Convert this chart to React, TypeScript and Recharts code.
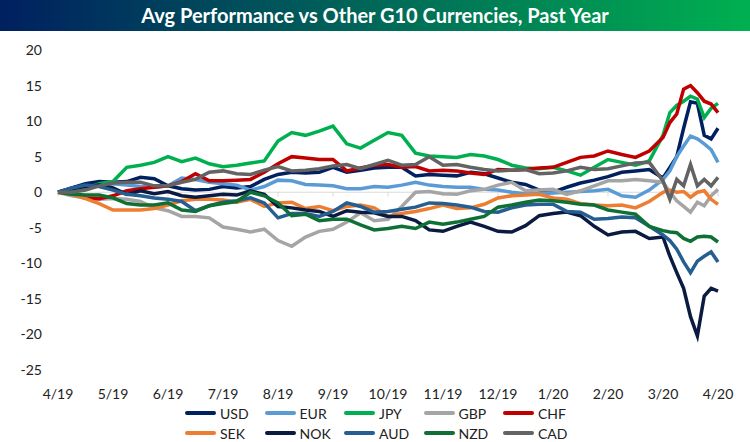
import { LineChart, Line, XAxis, YAxis, ReferenceLine } from "recharts";

// x positions are months since 4/19; March 2020 is sampled more finely
const monthTicks = [0, 1, 2, 3, 4, 5, 6, 7, 8, 9, 10, 11, 12];
const monthLabels = ["4/19", "5/19", "6/19", "7/19", "8/19", "9/19", "10/19", "11/19", "12/19", "1/20", "2/20", "3/20", "4/20"];
const months = [
  0, 0.25, 0.5, 0.75, 1, 1.25, 1.5, 1.75, 2, 2.25, 2.5, 2.75,
  3, 3.25, 3.5, 3.75, 4, 4.25, 4.5, 4.75, 5, 5.25, 5.5, 5.75,
  6, 6.25, 6.5, 6.75, 7, 7.25, 7.5, 7.75, 8, 8.25, 8.5, 8.75,
  9, 9.25, 9.5, 9.75, 10, 10.25, 10.5, 10.75, 11,
  11.125, 11.25, 11.375, 11.5, 11.625, 11.75, 11.875, 12,
];
const yTicks = [-25, -20, -15, -10, -5, 0, 5, 10, 15, 20];

const usd = [
  0, 0.6, 1.2, 1.5, 1.4, 1.5, 2.1, 1.9, 0.9, 0.5, 0.3, 0.4,
  0.8, 0.6, 0.8, 1.8, 2.5, 2.8, 2.7, 2.8, 3.5, 2.8, 3.1, 3.4,
  3.5, 3.5, 2.3, 2.5, 2.4, 2.3, 2.8, 2.6, 2.0, 1.4, 1.1, 0.3,
  0.0, 0.7, 1.3, 1.7, 2.2, 2.8, 3.0, 3.2, 2.0,
  3.5, 5.0, 9.0, 12.7, 12.5, 8.0, 7.5, 9.0,
];
const eur = [
  0, 0.5, 0.8, 1.0, 1.2, 1.0, 0.8, 0.7, 0.9, 2.0, 1.8, 1.4,
  1.2, 1.0, 0.3, 0.8, 1.7, 1.6, 1.1, 1.0, 0.9, 0.5, 0.5, 0.8,
  0.7, 1.0, 1.4, 1.0, 0.8, 0.7, 0.7, 0.4, 0.3, 0.0, -0.2, -0.2,
  -0.1, 0.0, 0.1, 0.2, 0.4, -0.5, -0.7, 0.3, 1.8,
  3.0, 5.0, 6.5, 7.9, 7.5, 6.8, 6.0, 4.2,
];
const jpy = [
  0, 0.3, 0.5, 1.2, 1.5, 3.5, 3.8, 4.2, 5.0, 4.3, 4.8, 4.0,
  3.6, 3.8, 4.1, 4.4, 7.2, 8.4, 8.0, 8.6, 9.3, 6.8, 6.2, 7.3,
  8.4, 8.0, 5.5, 5.1, 5.0, 4.9, 5.3, 5.1, 4.6, 3.8, 3.4, 3.3,
  3.5, 3.0, 2.4, 3.5, 4.6, 4.2, 3.8, 4.4, 8.0,
  11.2, 12.2, 12.8, 13.5, 13.1, 10.5, 11.8, 12.5,
];
const gbp = [
  0, -0.5, -0.8, -1.0, -0.9, -1.0, -1.3, -2.2, -2.6, -3.4, -3.4, -3.6,
  -4.9, -5.2, -5.6, -5.2, -6.8, -7.6, -6.3, -5.5, -5.2, -4.2, -2.9, -4.0,
  -3.8, -2.0, 0.0, 0.1, -0.2, -0.3, 0.2, 0.4, 1.0, 1.4, 0.2, 0.3,
  0.4, -0.3, 0.2, 0.9, 1.6, 1.6, 1.8, 1.6, 1.4,
  0.0, -1.2, -2.0, -2.8, -1.4, -1.9, -0.5, 0.4,
];
const chf = [
  0, -0.2, -0.8, -0.9, -0.5, 0.2, 0.5, 0.7, 0.9, 1.5, 2.6, 1.6,
  1.6, 1.7, 1.8, 2.8, 4.0, 5.0, 4.8, 4.6, 4.6, 3.0, 3.4, 3.8,
  3.9, 3.5, 3.6, 3.0, 3.1, 3.0, 2.7, 2.5, 3.2, 3.1, 3.2, 3.4,
  3.5, 4.2, 4.9, 5.1, 5.8, 5.3, 4.9, 5.8, 7.7,
  9.8, 11.0, 14.5, 15.0, 14.0, 12.8, 12.4, 11.2,
];
const sek = [
  0, -0.3, -0.9, -1.6, -2.5, -2.5, -2.5, -2.3, -1.8, -1.2, -1.0, -1.0,
  -1.1, -1.4, -1.0, -2.0, -1.5, -1.4, -2.3, -2.0, -2.6, -2.0, -1.8, -2.2,
  -3.4, -3.0, -2.7, -2.3, -1.8, -2.3, -2.2, -1.7, -0.8, -0.5, -0.4, -0.3,
  -0.8, -1.0, -1.6, -1.8, -1.9, -1.8, -2.2, -1.3, 0.0,
  0.3, 0.0, 0.1, -0.7, 0.0, 0.2, -1.0, -1.7,
];
const nok = [
  0, 0.5, 0.8, 1.0, 0.6, -0.3, 0.2, -0.2, 0.1, -0.5, -0.7, -0.5,
  -0.3, -0.4, 0.2, -0.3, -2.0, -2.2, -2.5, -2.7, -3.4, -2.6, -2.8, -2.9,
  -3.4, -3.4, -4.0, -5.3, -5.5, -4.8, -4.2, -4.8, -5.5, -5.6, -4.7, -3.3,
  -3.0, -2.8, -3.3, -4.8, -6.0, -5.6, -5.5, -6.5, -6.3,
  -9.0, -11.3, -13.5, -17.5, -20.2, -14.6, -13.5, -13.9,
];
const aud = [
  0, 0.6, 1.0, 0.8, 0.3, -0.3, -0.5, -0.8, -1.0, -1.3, -2.6, -1.9,
  -1.4, -1.2, -0.8, -1.5, -3.6, -3.0, -3.0, -3.4, -2.7, -1.5, -2.0, -2.8,
  -2.7, -2.4, -2.1, -1.5, -1.6, -1.8, -2.1, -2.7, -2.8, -2.2, -1.8, -1.7,
  -1.7, -2.7, -2.8, -3.8, -3.7, -3.5, -3.6, -4.8, -6.0,
  -6.8, -8.0, -9.8, -11.3, -9.7, -9.0, -8.4, -9.8,
];
const nzd = [
  0, -0.3, -0.4, -0.4, -0.8, -1.6, -1.8, -1.8, -1.5, -2.5, -2.7, -1.9,
  -1.6, -1.3, 0.0, -0.5, -1.5, -3.3, -3.1, -4.0, -3.8, -3.8, -4.6, -5.3,
  -5.1, -4.8, -5.1, -4.2, -4.5, -4.2, -3.8, -3.4, -2.1, -1.8, -1.4, -1.1,
  -1.2, -1.4, -1.7, -1.8, -2.5, -2.8, -3.1, -4.8, -5.4,
  -5.6, -5.7, -6.5, -6.9, -6.3, -6.2, -6.3, -7.0,
];
const cad = [
  0, 0.0, 0.3, 0.9, 1.3, 1.4, 1.4, 0.9, 0.9, 1.4, 1.8, 2.8,
  3.0, 2.6, 2.5, 3.1, 3.6, 3.0, 3.1, 3.3, 3.7, 3.9, 3.3, 3.9,
  4.5, 3.8, 3.9, 5.0, 3.8, 3.9, 3.5, 3.2, 3.0, 3.1, 3.2, 2.6,
  2.7, 3.0, 3.5, 3.2, 3.3, 3.7, 4.1, 4.2, 1.6,
  -1.0, 1.8, 0.9, 3.9, 0.9, 1.8, 0.9, 2.1,
];

const series = [
  { key: "USD", color: "#002060", values: usd },
  { key: "EUR", color: "#5B9BD5", values: eur },
  { key: "JPY", color: "#00B050", values: jpy },
  { key: "GBP", color: "#A5A5A5", values: gbp },
  { key: "CHF", color: "#C00000", values: chf },
  { key: "SEK", color: "#ED7D31", values: sek },
  { key: "NOK", color: "#0A1A40", values: nok },
  { key: "AUD", color: "#255E91", values: aud },
  { key: "NZD", color: "#0E7034", values: nzd },
  { key: "CAD", color: "#636363", values: cad },
];

const rows = months.map((m, i) => {
  const row: Record<string, number> = { m };
  series.forEach((s) => {
    row[s.key] = s.values[i];
  });
  return row;
});

const tickStyle = { fill: "#222", fontSize: 14, fontFamily: "Lato, sans-serif" };

function LegendGrid() {
  const legendRows = [series.slice(0, 5), series.slice(5)];
  return (
    <div style={{ position: "absolute", left: 185, top: 403 }}>
      {legendRows.map((row, ri) => (
        <div key={ri} style={{ display: "flex", height: 20 }}>
          {row.map((s) => (
            <div key={s.key} style={{ width: 79.5, display: "flex", alignItems: "center" }}>
              <span style={{ width: 31, height: 4, background: s.color, borderRadius: 2, marginRight: 4 }} />
              <span style={{ fontSize: 14, color: "#222" }}>{s.key}</span>
            </div>
          ))}
        </div>
      ))}
    </div>
  );
}

export default function App() {
  return (
    <div
      style={{
        position: "absolute",
        left: 0,
        top: 0,
        width: 750,
        height: 442,
        background: "#fff",
        fontFamily: "Lato, sans-serif",
      }}
    >
      <LineChart
        width={750}
        height={442}
        data={rows}
        margin={{ top: 50, right: 32, bottom: 0, left: 0 }}
      >
        <ReferenceLine y={0} stroke="#D9D9D9" strokeWidth={1} />
        {monthTicks.map((m) => (
          <ReferenceLine
            key={m}
            segment={[
              { x: m, y: 0 },
              { x: m, y: -0.6 },
            ]}
            stroke="#D9D9D9"
          />
        ))}
        <XAxis
          dataKey="m"
          type="number"
          domain={[0, 12]}
          ticks={monthTicks}
          tickFormatter={(v: number) => monthLabels[v]}
          axisLine={false}
          tickLine={false}
          tickSize={0}
          tickMargin={19}
          height={72}
          tick={tickStyle}
          interval={0}
        />
        <YAxis
          type="number"
          domain={[-25, 20]}
          ticks={yTicks}
          axisLine={false}
          tickLine={false}
          tickSize={0}
          tickMargin={16}
          width={58}
          tick={tickStyle}
          interval={0}
        />
        {series.map((s) => (
          <Line
            key={s.key}
            type="linear"
            dataKey={s.key}
            stroke={s.color}
            strokeWidth={3.5}
            dot={false}
            isAnimationActive={false}
          />
        ))}
      </LineChart>
      <div
        style={{
          position: "absolute",
          left: 0,
          top: 0,
          width: 750,
          height: 31,
          background: "linear-gradient(to right, #002060, #00B050)",
          color: "#fff",
          fontWeight: 700,
          fontSize: 20,
          lineHeight: "31px",
          textAlign: "center",
        }}
      >
        Avg Performance vs Other G10 Currencies, Past Year
      </div>
      <LegendGrid />
    </div>
  );
}
